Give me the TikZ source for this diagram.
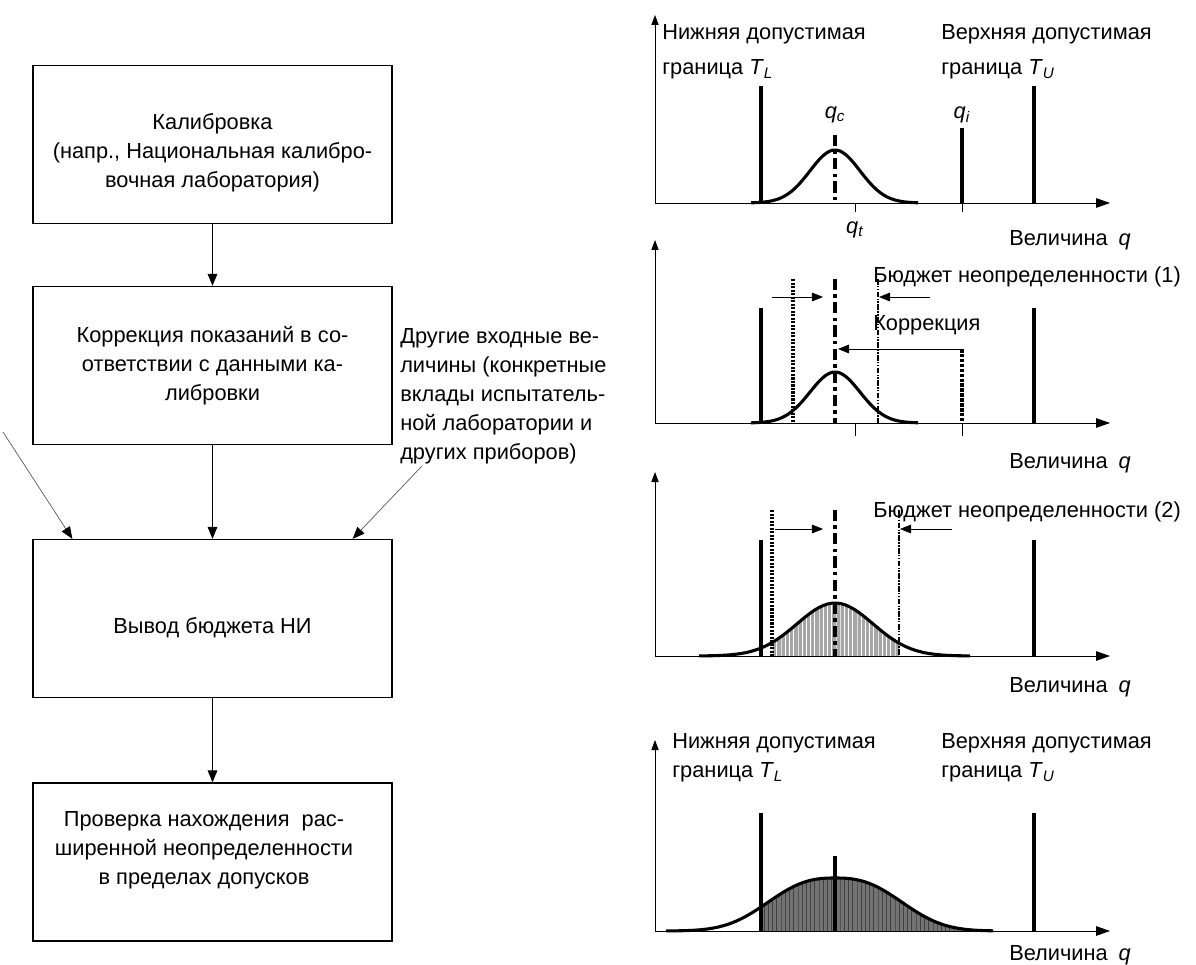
\documentclass[tikz,border=0pt]{standalone}
\usepackage{fontspec}
\setmainfont{Liberation Sans}
\usetikzlibrary{arrows.meta,patterns}

\newcommand{\vsub}[2]{\textit{#1}\textsubscript{\textit{#2}}}

\begin{document}
\begin{tikzpicture}[x=0.25mm,y=-0.25mm,font=\fontsize{15.5}{20.6}\selectfont,
	every node/.style={inner sep=0pt},
	box/.style={draw,line width=0.9pt,minimum width=89.75mm,minimum height=39.5mm},
	flow/.style={line width=0.8pt,-{Triangle[length=3mm,width=2.4mm]}},
	feed/.style={line width=0.5pt,black!65,-{Triangle[length=3mm,width=2.4mm,black]}},
	qaxis/.style={line width=0.6pt,-{Triangle[length=3.5mm,width=2.4mm]}},
	paxis/.style={line width=0.6pt,-{Triangle[length=2.5mm,width=1.8mm]}},
	push/.style={line width=0.5pt,-{Triangle[length=2.8mm,width=2.2mm]}},
	limit/.style={line width=2.8pt},
	bell/.style={line width=2.2pt,line join=round},
	centre/.style={line width=2.6pt,dash pattern=on 8pt off 3pt on 2.5pt off 3pt},
	lowdash/.style={line width=2.5pt,dash pattern=on 1.5pt off 1pt},
	highdash/.style={line width=2pt,dash pattern=on 4pt off 1pt on 1pt off 1pt on 1pt off 1pt},
	readdash/.style={line width=2.4pt,dash pattern=on 2.5pt off 1pt},
	notch/.style={line width=0.5pt}]
	\useasboundingbox (0,0) rectangle (1196,965);

	\node[box] (calib) at (212.5,144.5) {};
	\node[box] (corr) at (212.5,365.5) {};
	\node[box] (budget) at (212.5,618.5) {};
	\node[box] (check) at (212.5,862) {};
	\node[align=center] (calibtext) at (212.5,153) {Калибровка\\(напр., Национальная калибро-\\вочная лаборатория)};
	\node[align=center] (corrtext) at (212.5,366) {Коррекция показаний в со-\\ответствии с данными ка-\\либровки};
	\node (budgettext) at (212.5,628) {Вывод бюджета НИ};
	\node[align=center] (checktext) at (204,850) {Проверка нахождения\ \ рас-\\ширенной неопределенности\\в пределах допусков};
	\node[align=left,anchor=west] (other) at (400,396) {Другие входные ве-\\личины (конкретные\\вклады испытатель-\\ной лаборатории и\\других приборов)};
	\coordinate (outside) at (3,432);
	\draw[flow] (calib) -- (corr);
	\draw[flow] (corr) -- (budget);
	\draw[flow] (budget) -- (check);
	\draw[feed] (outside) -- ([xshift=10mm]budget.north west);
	\draw[feed] ([xshift=5.5mm,yshift=-0.5mm]other.south west) -- ([xshift=-10mm]budget.north east);

	\draw[limit] (761,86) -- (761,203);
	\draw[limit] (1034,86) -- (1034,203);
	\draw[centre] (835,135) -- (835,203);
	\draw[line width=2.4pt] (962,128) -- (962,203);
	\draw[bell] plot[domain=751:918,samples=50] (\x,{203-53*exp(-0.5*((\x-835)/25)*((\x-835)/25))});
	\draw[notch] (962,203) -- (962,212);
	\draw[notch] (855,203) -- (855,212);
	\draw[qaxis] (655,203) -- (1110,203);
	\draw[paxis] (655,203) -- (655,15);
	\node[align=left,anchor=west] (lower1) at (662,52) {Нижняя допустимая\\[1.5mm]граница \vsub{T}{L}};
	\node[align=left,anchor=west] (upper1) at (941,52) {Верхняя допустимая\\[1.5mm]граница \vsub{T}{U}};
	\path (835,115) node (qc) {\vsub{q}{c}};
	\path (962,115) node (qi) {\vsub{q}{i}};
	\path (855,230) node (qt) {\vsub{q}{t}};
	\path (1009,240) node[right] (qname1) {Величина\enspace\textit{q}};

	\draw[limit] (761,308) -- (761,423);
	\draw[limit] (1034,308) -- (1034,423);
	\draw[lowdash] (793,279) -- (793,423);
	\draw[centre] (835,279) -- (835,423);
	\draw[highdash] (878,279) -- (878,423);
	\draw[readdash] (962,349) -- (962,423);
	\draw[bell] plot[domain=751:918,samples=50] (\x,{423-51*exp(-0.5*((\x-835)/25)*((\x-835)/25))});
	\draw[notch] (962,423) -- (962,436);
	\draw[notch] (855,423) -- (855,436);
	\draw[push] (772,297) -- (823,297);
	\draw[push] (930,297) -- (879,297);
	\draw[push] (962,349) -- (838,349);
	\draw[qaxis] (655,423) -- (1110,423);
	\draw[paxis] (655,423) -- (655,240);
	\path (873,277) node[right] (budget1) {Бюджет неопределенности (1)};
	\path (873,325) node[right] (correction) {Коррекция};
	\path (1009,463) node[right] (qname2) {Величина\enspace\textit{q}};

	\fill[black!35,postaction={pattern=vertical lines,pattern color=white}] (772,656) -- plot[domain=772:899,samples=40] (\x,{656-53*exp(-0.5*((\x-835)/38)*((\x-835)/38))}) -- (899,656) -- cycle;
	\draw[limit] (761,540) -- (761,656);
	\draw[limit] (1034,540) -- (1034,656);
	\draw[lowdash] (772,510) -- (772,656);
	\draw[centre] (835,510) -- (835,656);
	\draw[highdash] (899,510) -- (899,656);
	\draw[bell] plot[domain=699:970,samples=60] (\x,{656-53*exp(-0.5*((\x-835)/38)*((\x-835)/38))});
	\draw[push] (775,529) -- (823,529);
	\draw[push] (952,529) -- (900,529);
	\draw[qaxis] (655,656) -- (1110,656);
	\draw[paxis] (655,656) -- (655,472);
	\path (873,512) node[right] (budget2) {Бюджет неопределенности (2)};
	\path (1009,687) node[right] (qname3) {Величина\enspace\textit{q}};

	\fill[black!55,postaction={pattern=vertical lines,pattern color=black!75}] (761,931) -- plot[domain=761:993,samples=50] (\x,{931-53*exp(-0.5*pow(abs((\x-835)/62),2.6))}) -- (993,931) -- cycle;
	\draw[limit] (761,813) -- (761,931);
	\draw[limit] (1034,813) -- (1034,931);
	\draw[limit] (835,856) -- (835,931);
	\draw[bell] plot[domain=666:993,samples=70] (\x,{931-53*exp(-0.5*pow(abs((\x-835)/62),2.6))});
	\draw[qaxis] (655,931) -- (1110,931);
	\draw[paxis] (655,931) -- (655,740);
	\node[align=left,anchor=west] (lower4) at (672,758) {Нижняя допустимая\\граница \vsub{T}{L}};
	\node[align=left,anchor=west] (upper4) at (941,758) {Верхняя допустимая\\граница \vsub{T}{U}};
	\path (1009,955) node[right] (qname4) {Величина\enspace\textit{q}};
\end{tikzpicture}
\end{document}
